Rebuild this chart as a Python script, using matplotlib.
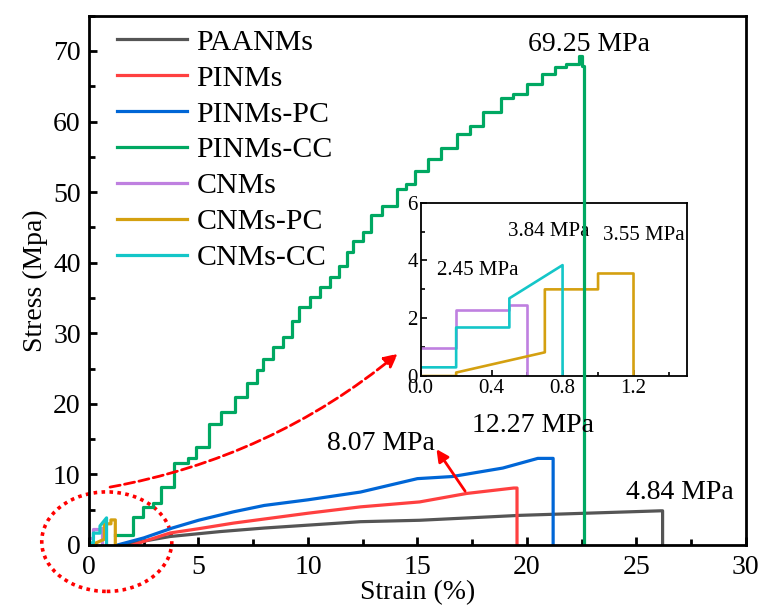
import numpy as np
import matplotlib
matplotlib.use('Agg')
import matplotlib.pyplot as plt
from matplotlib.patches import Ellipse
from matplotlib.ticker import MultipleLocator

plt.rcParams['font.family'] = ['Liberation Serif', 'DejaVu Serif']

# --- data ---
paanms_x = [1.5, 3.7, 6.0, 8.0, 12.4, 15.1, 19.7, 26.1, 26.2, 26.2]
paanms_y = [0.0, 1.2, 1.9, 2.4, 3.3, 3.5, 4.2, 4.84, 4.84, 0.0]

pinms_x = [2.0, 3.7, 5.0, 6.6, 10.0, 12.4, 15.1, 17.25, 19.4, 19.55, 19.55]
pinms_y = [0.0, 1.7, 2.3, 3.1, 4.5, 5.4, 6.1, 7.3, 8.07, 8.07, 0.0]

pinms_pc_x = [1.3, 2.5, 3.8, 5.0, 6.6, 8.0, 10.0, 12.4, 15.0, 16.6, 18.9, 20.5, 21.2, 21.2]
pinms_pc_y = [0.0, 1.0, 2.4, 3.5, 4.7, 5.6, 6.4, 7.5, 9.4, 9.7, 10.9, 12.27, 12.27, 0.0]

pinms_cc_x = [1.2, 1.72, 2.0, 2.47, 2.9, 3.3, 3.9, 4.5, 4.9, 5.5, 6.05, 6.67, 7.2, 7.65,
              7.96, 8.4, 8.87, 9.25, 9.6, 10.1, 10.55, 11.0, 11.4, 11.8, 12.06, 12.5,
              12.9, 13.4, 14.05, 14.5, 14.9, 15.5, 16.1, 16.8, 17.4, 18.0, 18.8, 19.35,
              20.0, 20.7, 21.3, 21.8, 22.4, 22.5, 22.6, 22.6]
pinms_cc_y = [1.41, 1.41, 4.0, 5.4, 5.9, 8.2, 11.6, 12.3, 13.9, 17.2, 18.9, 21.0, 22.9, 24.75,
              26.4, 28.0, 29.5, 31.8, 33.7, 35.1, 36.5, 37.95, 39.6, 41.5, 43.1, 44.3,
              46.7, 48.1, 50.5, 51.2, 53.0, 54.7, 56.3, 58.2, 59.4, 61.3, 63.4, 63.9,
              65.3, 66.8, 67.7, 68.2, 69.25, 67.9, 67.9, 0.0]

cnms_x = [0.0, 0.2, 0.2, 0.5, 0.5, 0.6, 0.6]
cnms_y = [0.97, 0.97, 2.28, 2.28, 2.45, 2.45, 0.0]

cnms_pc_x = [0.0, 0.2, 0.2, 0.7, 0.7, 1.0, 1.0, 1.2, 1.2]
cnms_pc_y = [0.0, 0.0, 0.12, 0.82, 3.0, 3.0, 3.55, 3.55, 0.0]

cnms_cc_x = [0.0, 0.2, 0.2, 0.5, 0.5, 0.8, 0.8]
cnms_cc_y = [0.3, 0.3, 1.68, 1.68, 2.69, 3.84, 0.0]

labels = ['PAANMs', 'PINMs', 'PINMs-PC', 'PINMs-CC', 'CNMs', 'CNMs-PC', 'CNMs-CC']
colors = ['#555555', '#FF4040', '#0066D6', '#00A862', '#BF80E0', '#D4A010', '#14C6C8']

fig = plt.figure(figsize=(7.61, 6.16), dpi=100)
ax = fig.add_axes([0.117, 0.1153, 0.863, 0.8592])

lw = 2.3
ax.plot(paanms_x, paanms_y, color=colors[0], lw=lw, label=labels[0])
ax.plot(pinms_x, pinms_y, color=colors[1], lw=lw, label=labels[1])
ax.plot(pinms_pc_x, pinms_pc_y, color=colors[2], lw=lw, label=labels[2])
ax.plot(pinms_cc_x, pinms_cc_y, color=colors[3], lw=lw, label=labels[3], drawstyle='steps-post')
ax.plot(cnms_x, cnms_y, color=colors[4], lw=lw, label=labels[4])
ax.plot(cnms_pc_x, cnms_pc_y, color=colors[5], lw=lw, label=labels[5])
ax.plot(cnms_cc_x, cnms_cc_y, color=colors[6], lw=lw, label=labels[6])

ax.set_xlim(0, 30)
ax.set_ylim(0, 75)
ax.xaxis.set_major_locator(MultipleLocator(5))
ax.xaxis.set_minor_locator(MultipleLocator(2.5))
ax.yaxis.set_major_locator(MultipleLocator(10))
ax.yaxis.set_minor_locator(MultipleLocator(5))
ax.tick_params(which='both', direction='in', labelsize=20, width=2)
ax.tick_params(which='major', length=6)
ax.tick_params(which='minor', length=4)
ax.tick_params(axis='x', pad=7)
ax.tick_params(axis='y', pad=6)
for s in ax.spines.values():
    s.set_linewidth(2)
ax.set_xlabel('Strain (%)', fontsize=20, labelpad=0)
ax.set_ylabel('Stress (Mpa)', fontsize=20, labelpad=4)

ax.legend(loc='upper left', bbox_to_anchor=(0.043, 0.975), frameon=False, fontsize=21.5,
          handlelength=2.35, handletextpad=0.3, labelspacing=0.3, borderpad=0, borderaxespad=0)

ax.text(20.05, 70.9, '69.25 MPa', fontsize=20, ha='left', va='center')
ax.text(17.5, 17.0, '12.27 MPa', fontsize=20, ha='left', va='center')
ax.text(24.55, 7.5, '4.84 MPa', fontsize=20, ha='left', va='center')
ax.text(10.85, 14.4, '8.07 MPa', fontsize=20, ha='left', va='center')

ax.annotate('', xy=(15.8, 13.9), xytext=(17.25, 7.3),
            arrowprops=dict(arrowstyle='-|>', color='red', lw=2, mutation_scale=18))
ax.annotate('', xy=(14.1, 27.1), xytext=(0.96, 8.2),
            arrowprops=dict(arrowstyle='-|>', color='red', lw=2, linestyle='--',
                            mutation_scale=20, connectionstyle='arc3,rad=0.13',
                            shrinkA=0, shrinkB=0))
ax.add_patch(Ellipse((0.81, 0.47), 5.94, 14.1, fill=False, ec='red', lw=2.6,
                     linestyle=(0, (1, 1.2)), clip_on=False))

# main axes above the inset so the green drop passes over it
ax.set_zorder(3)
ax.patch.set_visible(False)

ins = fig.add_axes([0.5528, 0.3896, 0.3496, 0.2813])
ins.set_zorder(2)
ins.set_facecolor('white')
ilw = 1.9
ins.plot(cnms_x, cnms_y, color=colors[4], lw=ilw)
ins.plot(cnms_pc_x, cnms_pc_y, color=colors[5], lw=ilw)
ins.plot(cnms_cc_x, cnms_cc_y, color=colors[6], lw=ilw)
ins.set_xlim(0, 1.5)
ins.set_ylim(0, 6)
ins.xaxis.set_major_locator(MultipleLocator(0.4))
ins.xaxis.set_minor_locator(MultipleLocator(0.2))
ins.yaxis.set_major_locator(MultipleLocator(2))
ins.yaxis.set_minor_locator(MultipleLocator(1))
ins.set_xticks([0, 0.4, 0.8, 1.2])
ins.set_xticklabels(['0.0', '0.4', '0.8', '1.2'])
ins.tick_params(which='both', direction='in', labelsize=15, width=1.2, pad=2)
ins.tick_params(which='major', length=4)
ins.tick_params(which='minor', length=3)
for s in ins.spines.values():
    s.set_linewidth(1.3)
ins.text(0.09, 3.67, '2.45 MPa', fontsize=15, ha='left', va='center')
ins.text(0.495, 5.0, '3.84 MPa', fontsize=15, ha='left', va='center')
ins.text(1.03, 4.88, '3.55 MPa', fontsize=15, ha='left', va='center')

fig.savefig('out.png', dpi=100)
